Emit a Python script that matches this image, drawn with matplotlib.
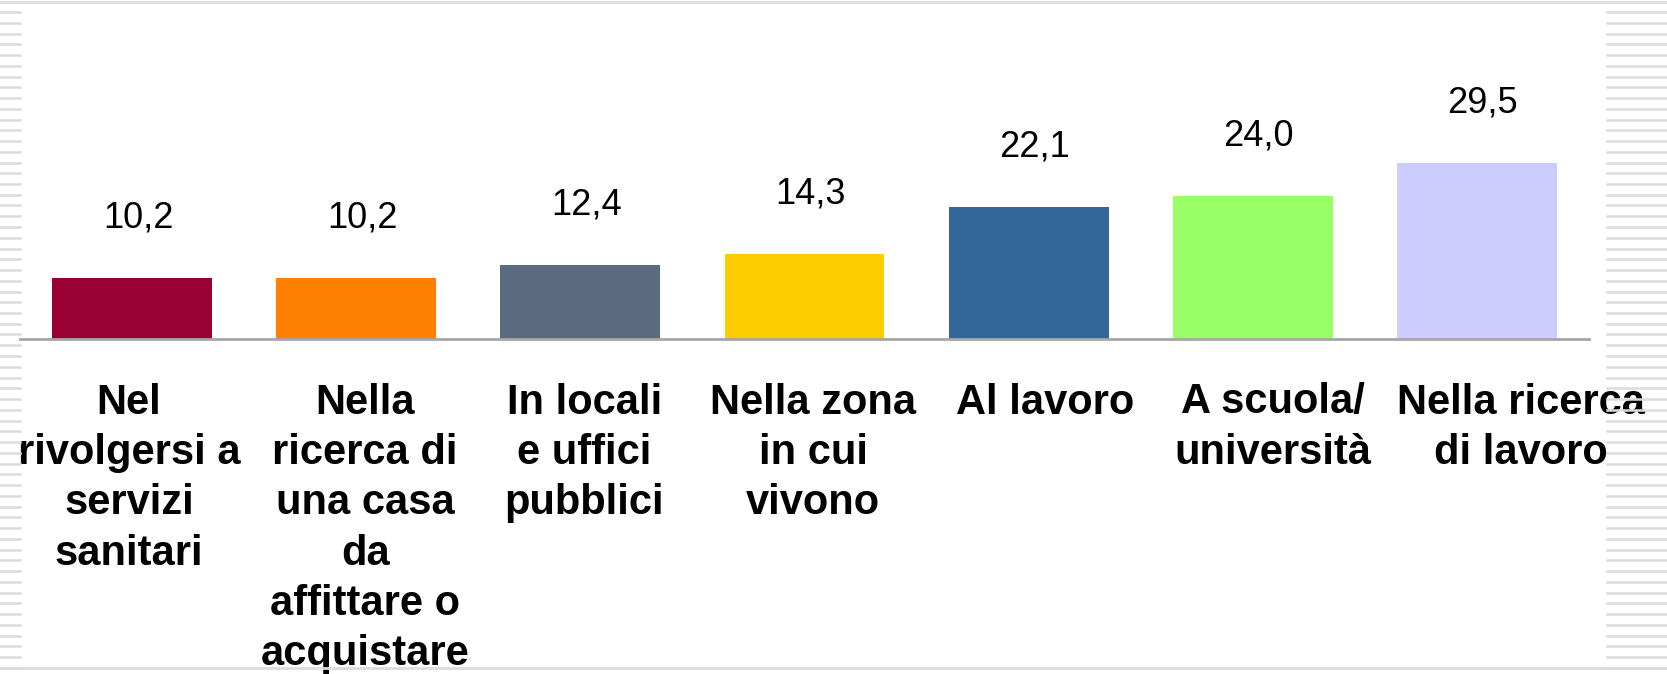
import matplotlib
matplotlib.use("Agg")
import matplotlib.pyplot as plt
from matplotlib.lines import Line2D
from matplotlib import font_manager

categories = [
    "Nel\nrivolgersi a\nservizi\nsanitari",
    "Nella\nricerca di\nuna casa\nda\naffittare o\nacquistare",
    "In locali\ne uffici\npubblici",
    "Nella zona\nin cui\nvivono",
    "Al lavoro",
    "A scuola/\nuniversità",
    "Nella ricerca\ndi lavoro",
]
values = [10.2, 10.2, 12.4, 14.3, 22.1, 24.0, 29.5]
colors = ["#990033", "#FF8000", "#5A6B80", "#FFCC00", "#336699", "#99FF66", "#CCCCFF"]

# layout: horizontal shift (px) of each category label relative to its bar
label_dx_px = [-3, 9, 4, 8.5, 16, 20, 44]

plt.rcParams['font.family'] = ['Liberation Sans', 'DejaVu Sans']
names = {f.name for f in font_manager.fontManager.ttflist}
narrow = 'Liberation Sans Narrow' in names
value_family = ['Liberation Sans Narrow', 'Liberation Sans'] if narrow else ['Liberation Sans']
value_size = 30 if narrow else 26

W, H = 1667, 674
DPI = 100
fig = plt.figure(figsize=(W / DPI, H / DPI), dpi=DPI)
fig.patch.set_facecolor("white")
px2pt = 72 / DPI

# decorative frame: stripes on left and right, lines top and bottom
stripe_col = "#DCDCDC"
y = 12
while y < H:
    fy = 1 - y / H
    fig.add_artist(Line2D([0, 20 / W], [fy, fy], color=stripe_col, lw=1.8))
    fig.add_artist(Line2D([1607 / W, 1], [fy, fy], color=stripe_col, lw=1.8))
    y += 10.75
fig.add_artist(Line2D([0, 1], [1 - 2 / H, 1 - 2 / H], color=stripe_col, lw=2))
fig.add_artist(Line2D([0, 1], [1 - 668 / H, 1 - 668 / H], color=stripe_col, lw=2))

ax_left, ax_right = 20 / W, 1589 / W
ax_bottom = 1 - 339 / H
ax_top = 1 - 20 / H
ax = fig.add_axes([ax_left, ax_bottom, ax_right - ax_left, ax_top - ax_bottom])
ax.set_facecolor("none")

x = list(range(len(values)))
ax.bar(x, values, width=0.713, color=colors, zorder=2)
ax.set_xlim(-0.5, len(values) - 0.5)
px_per_unit = 176 / 29.5
ax.set_ylim(0, (339 - 20) / px_per_unit)

for xi, v in zip(x, values):
    ax.annotate(f"{v:.1f}".replace(".", ","), (xi, v),
                xytext=(6 * px2pt, 60 * px2pt),
                textcoords="offset points", ha="center", va="center",
                fontsize=value_size, family=value_family, color="black")

for xi, lab, dx in zip(x, categories, label_dx_px):
    ax.annotate(lab, (xi, 0), xytext=(dx * px2pt, -43.5 * px2pt),
                textcoords="offset points", ha="center", va="top",
                multialignment="center", fontsize=30, fontweight="bold",
                linespacing=1.335, color="black", annotation_clip=False)

for s in ["top", "right", "left"]:
    ax.spines[s].set_visible(False)
ax.spines["bottom"].set_color("#A6A6A6")
ax.spines["bottom"].set_linewidth(2)
ax.set_yticks([])
ax.set_xticks([])

fig.savefig("out.png", dpi=DPI, facecolor="white")
